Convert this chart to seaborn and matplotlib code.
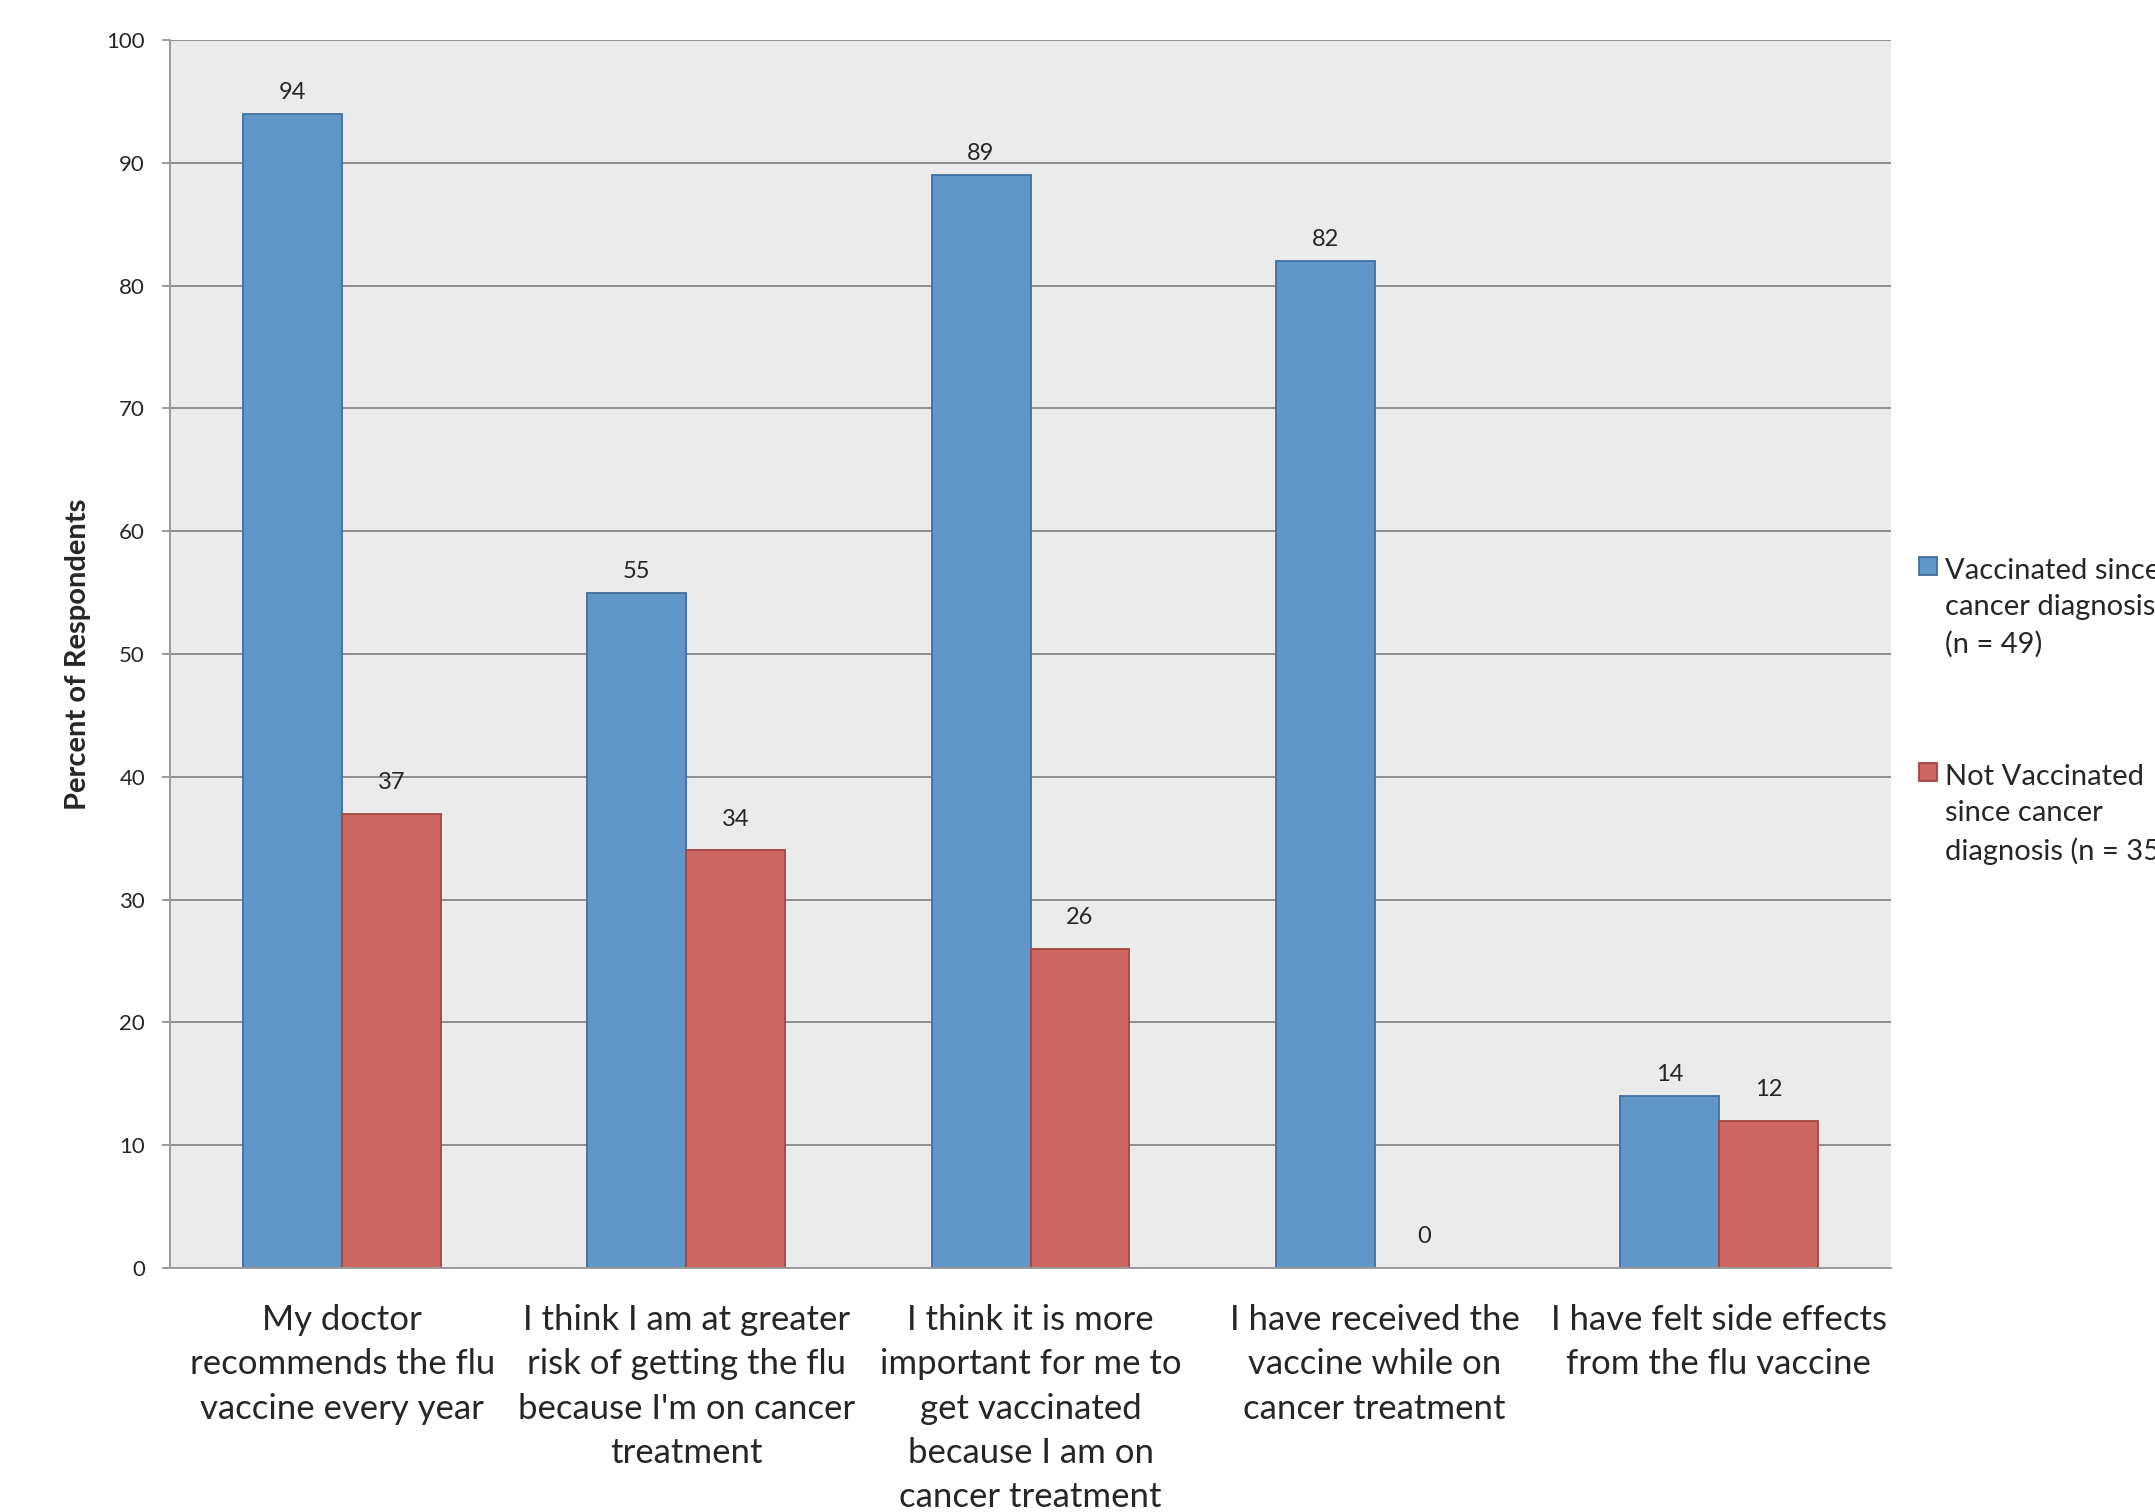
import pandas as pd
import seaborn as sns
import matplotlib.pyplot as plt
from matplotlib.patches import Rectangle

# data
categories = [
    "My doctor\nrecommends the flu\nvaccine every year",
    "I think I am at greater\nrisk of getting the flu\nbecause I'm on cancer\ntreatment",
    "I think it is more\nimportant for me to\nget vaccinated\nbecause I am on\ncancer treatment",
    "I have received the\nvaccine while on\ncancer treatment",
    "I have felt side effects\nfrom the flu vaccine",
]
vaccinated = [94, 55, 89, 82, 14]
not_vaccinated = [37, 34, 26, 0, 12]
groups = ["Vaccinated", "Not Vaccinated"]
legend_labels = [
    "Vaccinated since\ncancer diagnosis\n(n = 49)",
    "Not Vaccinated\nsince cancer\ndiagnosis (n = 35)",
]

FILL = ["#6096C8", "#CD6661"]
EDGE = ["#41709E", "#A24642"]

df = pd.DataFrame({
    "category": categories * 2,
    "group": [groups[0]] * len(categories) + [groups[1]] * len(categories),
    "percent": vaccinated + not_vaccinated,
})

sns.set_style("white")
plt.rcParams["font.family"] = ["Lato", "DejaVu Sans"]

fig = plt.figure(figsize=(21.55, 15.12), dpi=100)
ax = fig.add_axes([0.0789, 0.1614, 0.7986, 0.8121])
ax.set_facecolor("#EBEBEB")

sns.barplot(data=df, x="category", y="percent", hue="group", hue_order=groups,
            palette=FILL, width=0.575, gap=0, saturation=1, ax=ax,
            legend=False, errorbar=None)

for i, cont in enumerate(ax.containers):
    for bar in cont:
        bar.set_edgecolor(EDGE[i])
        bar.set_linewidth(1.3)
    ax.bar_label(cont, fmt="%d", padding=8 if i == 0 else 15, fontsize=17)

ax.set_ylim(0, 100)
ax.set_xlim(-0.5, 4.5)
ax.set_yticks(range(0, 101, 10))
ax.yaxis.grid(True, color="#8E8E8E", linewidth=1.4)
ax.set_axisbelow(True)
for s in ["top", "right"]:
    ax.spines[s].set_visible(False)
for s in ["left", "bottom"]:
    ax.spines[s].set_color("#9A9A9A")
    ax.spines[s].set_linewidth(1.4)

ax.tick_params(axis="y", left=True, length=6, width=1.4, color="#9A9A9A",
               pad=12, labelsize=16)
ax.tick_params(axis="x", length=0, pad=26, labelsize=25)
for lbl in ax.get_xticklabels():
    lbl.set_linespacing(1.47)
    lbl.set_verticalalignment("top")

ax.set_xlabel("")
ax.set_ylabel("Percent of Respondents", fontsize=21, fontweight="bold", labelpad=11)

# legend drawn at the right, marker next to first line of each entry
W, H = 2155, 1512
for i, (lab, y_top) in enumerate(zip(legend_labels, [557, 763])):
    fig.add_artist(Rectangle((1919 / W, 1 - (y_top + 18) / H), 18 / W, 18 / H,
                             facecolor=FILL[i], edgecolor=EDGE[i], linewidth=1.3,
                             transform=fig.transFigure))
    fig.text(1945 / W, 1 - (y_top + 1) / H, lab, fontsize=21, va="top",
             ha="left", linespacing=1.48)

fig.savefig("out.png", dpi=100)
